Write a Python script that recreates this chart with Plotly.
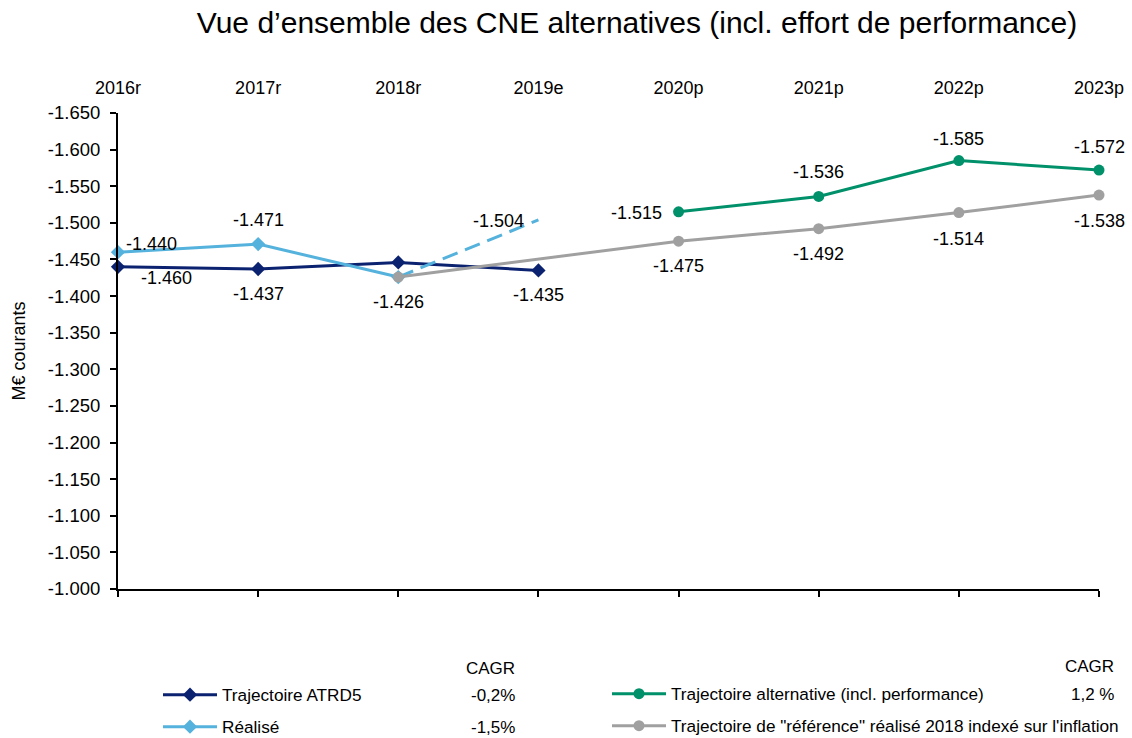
import plotly.graph_objects as go

# ---------------- data ----------------
categories = ["2016r", "2017r", "2018r", "2019e", "2020p", "2021p", "2022p", "2023p"]

atrd5_x = [0, 1, 2, 3]
atrd5_y = [-1440, -1437, -1446, -1435]

realise_x = [0, 1, 2]
realise_y = [-1460, -1471, -1426]

realise_est_x = [2, 3]
realise_est_y = [-1426, -1504]

alternative_x = [4, 5, 6, 7]
alternative_y = [-1515, -1536, -1585, -1572]

reference_x = [2, 3, 4, 5, 6, 7]
reference_y = [-1426, -1451, -1475, -1492, -1514, -1538]

y_ticks = [-1000, -1050, -1100, -1150, -1200, -1250, -1300, -1350,
           -1400, -1450, -1500, -1550, -1600, -1650]

series_names = [
    "Trajectoire ATRD5",
    "Réalisé",
    "Trajectoire alternative (incl. performance)",
    "Trajectoire de \"référence\" réalisé 2018 indexé sur l'inflation",
]
cagr_left = ["-0,2%", "-1,5%"]
cagr_right = ["1,2 %", ""]

# ---------------- style ----------------
NAVY = "#0b2270"
LIGHT = "#55b2dc"
GREEN = "#00906a"
GREY = "#a0a0a0"
CLEAR = "rgba(0,0,0,0)"
FONT = "Liberation Sans, Arial, Helvetica, sans-serif"

L, R, T, B = 118, 33, 113, 149
W, H = 1132, 738
PW, PH = W - L - R, H - T - B


def px_to_paper_x(px):
    return (px - L) / PW


def px_to_paper_y(py):
    return (H - B - py) / PH


def fmt(v):
    return f"{v:,}".replace(",", ".")


fig = go.Figure()

fig.add_trace(go.Scatter(
    x=atrd5_x, y=atrd5_y, mode="lines+markers", name=series_names[0],
    line=dict(color=NAVY, width=3), marker=dict(symbol="diamond", size=11, color=NAVY),
    cliponaxis=False, legend="legend", hoverinfo="skip"))

fig.add_trace(go.Scatter(
    x=realise_x, y=realise_y, mode="lines+markers", name=series_names[1],
    line=dict(color=LIGHT, width=3), marker=dict(symbol="diamond", size=11, color=LIGHT),
    cliponaxis=False, legend="legend2", hoverinfo="skip"))

fig.add_trace(go.Scatter(
    x=realise_est_x, y=realise_est_y, mode="lines", showlegend=False,
    line=dict(color=LIGHT, width=3, dash="16px,8px"), cliponaxis=False, hoverinfo="skip"))

fig.add_trace(go.Scatter(
    x=alternative_x, y=alternative_y, mode="lines+markers", name=series_names[2],
    line=dict(color=GREEN, width=3), marker=dict(symbol="circle", size=11, color=GREEN),
    cliponaxis=False, legend="legend3", hoverinfo="skip"))

ref_marker_colors = [GREY, CLEAR, GREY, GREY, GREY, GREY]
fig.add_trace(go.Scatter(
    x=reference_x, y=reference_y, mode="lines+markers", name=series_names[3],
    line=dict(color=GREY, width=3),
    marker=dict(symbol="circle", size=11, color=ref_marker_colors),
    cliponaxis=False, legend="legend4", hoverinfo="skip"))

# dummy trace carrying the top category axis
fig.add_trace(go.Scatter(x=[0, 7], y=[None, None], xaxis="x2", showlegend=False,
                         hoverinfo="skip", mode="lines"))

# ---------------- data labels ----------------
label_specs = [
    # (x list, y list, index, xshift, yshift)
    (atrd5_x, atrd5_y, 0, 33, 23),
    (atrd5_x, atrd5_y, 1, 0, -25),
    (atrd5_x, atrd5_y, 3, 0, -25),
    (realise_x, realise_y, 0, 48, -26),
    (realise_x, realise_y, 1, 0, 24),
    (reference_x, reference_y, 0, 0, -25),
    (realise_est_x, realise_est_y, 1, -40, -1),
    (alternative_x, alternative_y, 0, -42, -1),
    (alternative_x, alternative_y, 1, 0, 24),
    (alternative_x, alternative_y, 2, 0, 22),
    (alternative_x, alternative_y, 3, 0, 23),
    (reference_x, reference_y, 2, 0, -25),
    (reference_x, reference_y, 3, 0, -25),
    (reference_x, reference_y, 4, 0, -26),
    (reference_x, reference_y, 5, 0, -26),
]
annotations = []
for xs, ys, i, dx, dy in label_specs:
    annotations.append(dict(
        x=xs[i], y=ys[i], xref="x", yref="y", text=fmt(ys[i]), showarrow=False,
        xshift=dx, yshift=dy, font=dict(size=18, color="black", family=FONT)))

# CAGR columns
annotations.append(dict(x=px_to_paper_x(517), y=px_to_paper_y(668), xref="paper", yref="paper",
                        text="CAGR", showarrow=False, xanchor="right", yanchor="middle",
                        font=dict(size=17, family=FONT, color="black")))
annotations.append(dict(x=px_to_paper_x(1116), y=px_to_paper_y(666), xref="paper", yref="paper",
                        text="CAGR", showarrow=False, xanchor="right", yanchor="middle",
                        font=dict(size=17, family=FONT, color="black")))
row_y = [695, 727]
for val, yy in zip(cagr_left, row_y):
    annotations.append(dict(x=px_to_paper_x(517), y=px_to_paper_y(yy), xref="paper", yref="paper",
                            text=val, showarrow=False, xanchor="right", yanchor="middle",
                            font=dict(size=17, family=FONT, color="black")))
for val, yy in zip(cagr_right, row_y):
    if val:
        annotations.append(dict(x=px_to_paper_x(1116), y=px_to_paper_y(yy - 1), xref="paper", yref="paper",
                                text=val, showarrow=False, xanchor="right", yanchor="middle",
                                font=dict(size=17, family=FONT, color="black")))

legend_common = dict(orientation="v", xanchor="left", yanchor="middle", bgcolor="rgba(0,0,0,0)",
                     font=dict(size=17.2, family=FONT, color="black"), itemwidth=54,
                     itemclick=False, itemdoubleclick=False)

fig.update_layout(
    width=W, height=H,
    margin=dict(l=L, r=R, t=T, b=B, autoexpand=False),
    paper_bgcolor="white", plot_bgcolor="white",
    font=dict(family=FONT, color="black", size=18),
    title=dict(text="Vue d’ensemble des CNE alternatives (incl. effort de performance)",
               x=637 / W, xref="container", xanchor="center",
               y=1 - 22 / H, yref="container", yanchor="middle",
               font=dict(size=30, family=FONT, color="black")),
    xaxis=dict(range=[0, 7], tickvals=list(range(len(categories))), showticklabels=False,
               ticks="outside", ticklen=6, tickwidth=2, tickcolor="black",
               showline=True, linecolor="black", linewidth=2, showgrid=False, zeroline=False,
               fixedrange=True),
    xaxis2=dict(range=[0, 7], overlaying="x", side="top", tickvals=list(range(len(categories))),
                ticktext=categories, showline=False, showgrid=False, zeroline=False, ticks="",
                ticklabelstandoff=14, tickfont=dict(size=18, family=FONT, color="black"),
                fixedrange=True),
    yaxis=dict(range=[-1000, -1650], tickvals=y_ticks, ticktext=[fmt(v) for v in y_ticks],
               ticks="outside", ticklen=6, tickwidth=2, tickcolor="black",
               showline=True, linecolor="black", linewidth=2, showgrid=False, zeroline=False,
               tickfont=dict(size=18.5, family=FONT, color="black"),
               ticklabelstandoff=6,
               title=dict(text="M€ courants", standoff=18, font=dict(size=18, family=FONT, color="black")),
               fixedrange=True),
    annotations=annotations,
    legend=dict(x=px_to_paper_x(158), y=px_to_paper_y(695), **legend_common),
    legend2=dict(x=px_to_paper_x(158), y=px_to_paper_y(727), **legend_common),
    legend3=dict(x=px_to_paper_x(607), y=px_to_paper_y(694), **legend_common),
    legend4=dict(x=px_to_paper_x(607), y=px_to_paper_y(726), **legend_common),
    hovermode=False,
)

fig.write_html("out.html", config=dict(displayModeBar=False),
               post_script="document.body.style.margin='0';document.body.style.overflow='hidden';")
